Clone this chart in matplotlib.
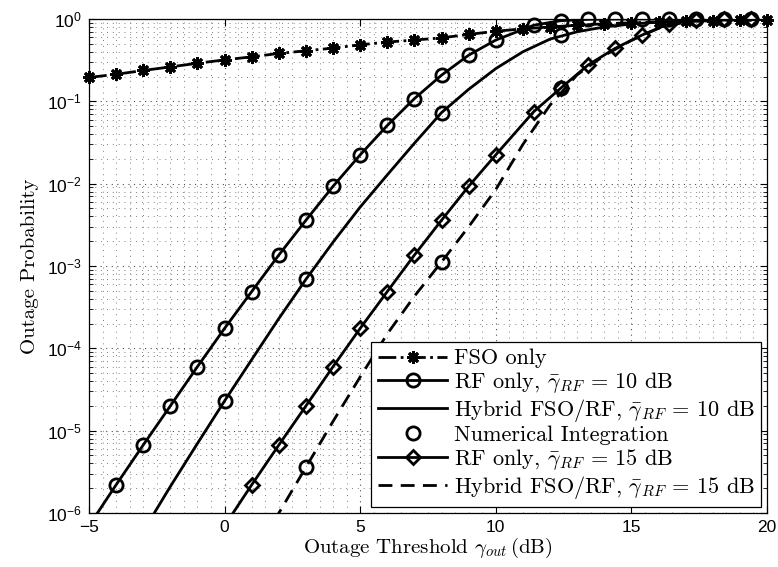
import matplotlib
matplotlib.use('Agg')
import matplotlib.pyplot as plt
from matplotlib.ticker import LogLocator, MultipleLocator, NullFormatter
from matplotlib.legend_handler import HandlerTuple

plt.rcParams['font.family'] = 'Liberation Sans'
plt.rcParams['mathtext.fontset'] = 'custom'
plt.rcParams['mathtext.rm'] = 'Liberation Sans'
plt.rcParams['mathtext.it'] = 'Liberation Sans:italic'
plt.rcParams['mathtext.bf'] = 'Liberation Sans:bold'

# FSO only, one point per dB
fso_x = list(range(-5, 21))
fso_p = [0.195, 0.213, 0.237, 0.262, 0.290, 0.319, 0.347, 0.382, 0.411, 0.443,
         0.486, 0.525, 0.555, 0.59, 0.65, 0.71, 0.76, 0.80, 0.84, 0.875,
         0.90, 0.92, 0.935, 0.95, 0.96, 0.965]

# RF only, mean SNR 10 dB
rf10_x = [-5, -4, -3, -2, -1, 0, 1, 2, 3, 4, 5, 6, 7, 8, 9, 10,
          11.4, 12.4, 13.4, 14.4, 15.4, 16.4, 17.4, 18.4, 19.4, 20]
rf10_p = [7e-7, 2.2e-6, 6.7e-6, 2.0e-5, 6.0e-5, 1.75e-4, 4.9e-4, 1.36e-3, 3.6e-3, 9.3e-3,
          2.24e-2, 0.051, 0.108, 0.208, 0.364, 0.555,
          0.84, 0.955, 0.99, 0.998, 1.0, 1.0, 1.0, 1.0, 1.0, 1.0]

# hybrid FSO/RF, 10 dB
h10_x = list(range(-3, 21))
h10_p = [6e-7, 2.1e-6, 7e-6, 2.3e-5, 7.3e-5, 2.3e-4, 6.9e-4, 1.95e-3, 5.2e-3, 0.0128,
         0.031, 0.073, 0.14, 0.25, 0.40, 0.57, 0.70, 0.80, 0.87, 0.915,
         0.945, 0.965, 0.975, 0.985]

# numerical integration check points
ni10_x = [0, 3, 8, 12.4]
ni10_p = [2.3e-5, 6.9e-4, 0.073, 0.64]
ni15_x = [3, 8, 12.4]
ni15_p = [3.6e-6, 1.12e-3, 0.145]

# RF only, 15 dB
rf15_x = [0, 1, 2, 3, 4, 5, 6, 7, 8, 9, 10,
          11.4, 12.4, 13.4, 14.4, 15.4, 16.4, 17.4, 18.4, 19.4, 20]
rf15_p = [7e-7, 2.2e-6, 6.7e-6, 2.0e-5, 6.0e-5, 1.75e-4, 4.9e-4, 1.36e-3, 3.6e-3, 9.3e-3, 2.24e-2,
          0.075, 0.145, 0.276, 0.44, 0.64, 0.88, 0.965, 0.99, 0.998, 1.0]

# hybrid FSO/RF, 15 dB
h15_x = list(range(1, 21))
h15_p = [2.7e-7, 1e-6, 3.6e-6, 1.3e-5, 4.5e-5, 1.5e-4, 4.3e-4, 1.12e-3, 3.0e-3, 8.5e-3,
         0.030, 0.09, 0.21, 0.36, 0.55, 0.77, 0.92, 0.975, 0.99, 0.995]

fig = plt.figure(figsize=(7.78, 5.67), dpi=100)
ax = fig.add_axes([89/778, 54/567, 678/778, 494/567])

lw = 2.0
mw = 2.0
star = (8, 2, 0)

fso_l, = ax.plot(fso_x, fso_p, '-.', color='k', lw=lw)
fso_m, = ax.plot(fso_x, fso_p, ls='none', marker=star, ms=9, mew=2, color='k', clip_on=False)

rf10_l, = ax.plot(rf10_x, rf10_p, '-', color='k', lw=lw)
rf10_m, = ax.plot(rf10_x[1:-1], rf10_p[1:-1], ls='none', marker='o', ms=9.5, mew=mw,
                  mfc='none', mec='k', clip_on=False)

h10_l, = ax.plot(h10_x, h10_p, '-', color='k', lw=lw)

ni_m, = ax.plot(ni10_x, ni10_p, ls='none', marker='o', ms=9.5, mew=mw, mfc='none', mec='k', clip_on=False)
ax.plot(ni15_x, ni15_p, ls='none', marker='o', ms=9.5, mew=mw, mfc='none', mec='k', clip_on=False)

rf15_l, = ax.plot(rf15_x, rf15_p, '-', color='k', lw=lw)
rf15_m, = ax.plot(rf15_x[1:-1], rf15_p[1:-1], ls='none', marker='D', ms=7, mew=mw,
                  mfc='none', mec='k', clip_on=False)

h15_l, = ax.plot(h15_x, h15_p, color='k', lw=lw, ls=(0, (5, 3)))

ax.set_yscale('log')
ax.set_xlim(-5, 20)
ax.set_ylim(1e-6, 1)
ax.xaxis.set_major_locator(MultipleLocator(5))
ax.xaxis.set_minor_locator(MultipleLocator(0.5))
ax.yaxis.set_major_locator(LogLocator(base=10, numticks=10))
ax.yaxis.set_minor_locator(LogLocator(base=10, subs=range(2, 10), numticks=20))
ax.yaxis.set_minor_formatter(NullFormatter())

ax.grid(True, which='major', color='0.3', lw=0.8, ls=(0, (1, 4)))
ax.grid(True, which='minor', color='0.5', lw=0.7, ls=(0, (1, 5)))
ax.set_axisbelow(True)

ax.tick_params(which='both', direction='in', top=True, right=True, labelsize=12.5)
ax.tick_params(which='major', length=5, width=0.8, pad=5)
ax.tick_params(axis='y', which='minor', length=3, width=0.6)
ax.tick_params(axis='x', which='minor', length=0)
for s in ax.spines.values():
    s.set_linewidth(0.9)

ax.set_xlabel(r'Outage Threshold $\gamma_{out}\,$(dB)', fontfamily='cmr10',
              math_fontfamily='cm', fontsize=15, labelpad=1)
ax.set_ylabel('Outage Probability', fontfamily='cmr10', fontsize=15, labelpad=6)

handles = [(fso_l, fso_m), (rf10_l, rf10_m), h10_l, ni_m, (rf15_l, rf15_m), h15_l]
labels = ['FSO only',
          r'RF only, $\bar{\gamma}_{RF}$ = 10 dB',
          r'Hybrid FSO/RF, $\bar{\gamma}_{RF}$ = 10 dB',
          'Numerical Integration',
          r'RF only, $\bar{\gamma}_{RF}$ = 15 dB',
          r'Hybrid FSO/RF, $\bar{\gamma}_{RF}$ = 15 dB']
leg = ax.legend(handles, labels, loc='lower right', prop={'family': 'cmr10', 'size': 16},
                handler_map={tuple: HandlerTuple(ndivide=1, pad=0)},
                fancybox=False, edgecolor='k', framealpha=1, borderaxespad=0.25,
                handlelength=3.1, handletextpad=0.3, labelspacing=0.08, borderpad=0.3)
leg.get_frame().set_linewidth(0.9)
for t in leg.get_texts():
    t.set_math_fontfamily('cm')

fig.savefig('out.png', dpi=100)
